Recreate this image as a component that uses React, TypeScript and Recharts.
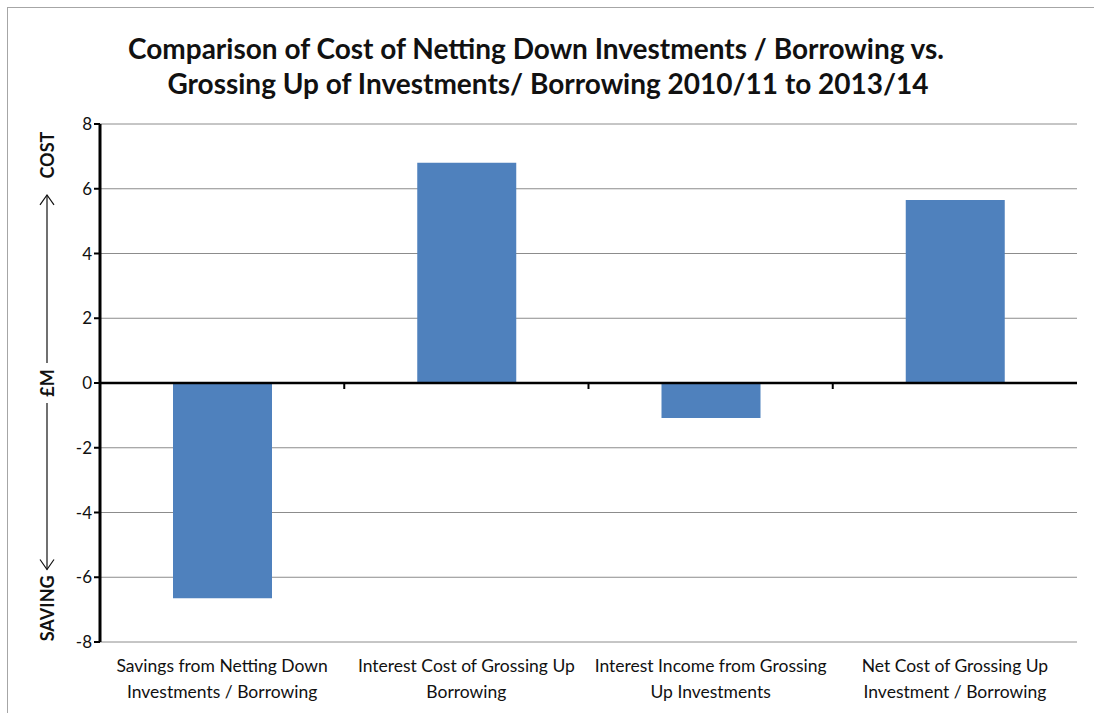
import React from 'react';
import {
  ComposedChart,
  Bar,
  XAxis,
  YAxis,
  CartesianGrid,
  ReferenceLine,
} from 'recharts';

const categories = [
  'Savings from Netting Down\nInvestments / Borrowing',
  'Interest Cost of Grossing Up\nBorrowing',
  'Interest Income from Grossing\nUp Investments',
  'Net Cost of Grossing Up\nInvestment / Borrowing',
];
const values = [-6.65, 6.8, -1.08, 5.65];
const yTicks = [-8, -6, -4, -2, 0, 2, 4, 6, 8];
const titleLines = [
  'Comparison of Cost of Netting Down Investments / Borrowing vs.',
  'Grossing Up of Investments/ Borrowing 2010/11 to 2013/14',
];

const data = categories.map((c, i) => ({ name: c, value: values[i] }));

const FONT = 'Lato, "Open Sans", sans-serif';

const CategoryTick = (props: any) => {
  const { x, y, payload } = props;
  const lines = String(payload.value).split('\n');
  return (
    <g transform={`translate(${x},${y})`}>
      {lines.map((l: string, i: number) => (
        <text
          key={i}
          x={0}
          y={22 + i * 26}
          textAnchor="middle"
          fontFamily={FONT}
          fontSize={17.5}
          fill="#111"
        >
          {l}
        </text>
      ))}
    </g>
  );
};

// Zero axis line with tick marks at category boundaries
const ZeroAxis = (props: any) => {
  const { x1, x2, y1 } = props;
  const n = categories.length;
  const step = (x2 - x1) / n;
  const ticks = [];
  for (let i = 1; i < n; i++) {
    const tx = x1 + step * i;
    ticks.push(
      <line key={i} x1={tx} y1={y1} x2={tx} y2={y1 + 6} stroke="#000" strokeWidth={2} />
    );
  }
  return (
    <g>
      <line x1={x1} y1={y1} x2={x2} y2={y1} stroke="#000" strokeWidth={2.5} />
      {ticks}
    </g>
  );
};

const YLabel = (props: any) => {
  const vb = props.viewBox || {};
  const top = vb.y;
  const h = vb.height;
  const cx = 47;
  const mid = top + h / 2;
  const costY = top + h * 0.06;
  const savY = top + h * 0.935;
  const upStart = mid - 20;
  const upEnd = top + h * 0.137;
  const dnStart = mid + 20;
  const dnEnd = top + h * 0.86;
  const txt = (t: string, y: number) => (
    <text
      x={cx}
      y={y}
      transform={`rotate(-90 ${cx} ${y})`}
      textAnchor="middle"
      dominantBaseline="central"
      fontFamily={FONT}
      fontWeight="bold"
      fontSize={18}
      fill="#111"
    >
      {t}
    </text>
  );
  return (
    <g>
      {txt('COST', costY)}
      {txt('£M', mid)}
      {txt('SAVING', savY)}
      <line x1={cx} y1={upStart} x2={cx} y2={upEnd} stroke="#111" strokeWidth={1.2} />
      <polyline
        points={`${cx - 7},${upEnd + 10} ${cx},${upEnd} ${cx + 7},${upEnd + 10}`}
        fill="none"
        stroke="#111"
        strokeWidth={1.2}
      />
      <line x1={cx} y1={dnStart} x2={cx} y2={dnEnd} stroke="#111" strokeWidth={1.2} />
      <polyline
        points={`${cx - 7},${dnEnd - 10} ${cx},${dnEnd} ${cx + 7},${dnEnd - 10}`}
        fill="none"
        stroke="#111"
        strokeWidth={1.2}
      />
    </g>
  );
};

export default function App() {
  return (
    <div
      style={{
        position: 'absolute',
        left: 0,
        top: 0,
        width: 1094,
        height: 713,
        background: '#fff',
        overflow: 'hidden',
      }}
    >
      <div
        style={{
          position: 'absolute',
          left: 7,
          top: 7,
          width: 1100,
          height: 720,
          borderLeft: '1.5px solid #a6a6a6',
          borderTop: '1.5px solid #a6a6a6',
        }}
      />
      <svg
        width={1094}
        height={120}
        style={{ position: 'absolute', left: 0, top: 0 }}
      >
        {titleLines.map((t, i) => (
          <text
            key={i}
            x={i === 0 ? 536 : 548}
            y={59 + i * 35}
            textAnchor="middle"
            fontFamily={FONT}
            fontWeight="bold"
            fontSize={28}
            fill="#111"
          >
            {t}
          </text>
        ))}
      </svg>
      <div style={{ position: 'absolute', left: 0, top: 0 }}>
        <ComposedChart
          width={1094}
          height={713}
          data={data}
          margin={{ top: 124, right: 17, bottom: 11, left: 40 }}
        >
          <CartesianGrid vertical={false} stroke="#8c8c8c" strokeWidth={1} />
          <XAxis
            dataKey="name"
            height={60}
            axisLine={false}
            tickLine={false}
            interval={0}
            tick={<CategoryTick />}
          />
          <YAxis
            width={60}
            domain={[-8, 8]}
            ticks={yTicks}
            interval={0}
            axisLine={{ stroke: '#000', strokeWidth: 3 }}
            tickLine={{ stroke: '#000', strokeWidth: 2 }}
            tickSize={6}
            tick={{ fontFamily: FONT, fontSize: 17, fill: '#111' }}
            label={<YLabel />}
          />
          <Bar dataKey="value" fill="#4f81bd" isAnimationActive={false} barSize={99} />
          <ReferenceLine y={0} shape={<ZeroAxis />} />
        </ComposedChart>
      </div>
    </div>
  );
}
